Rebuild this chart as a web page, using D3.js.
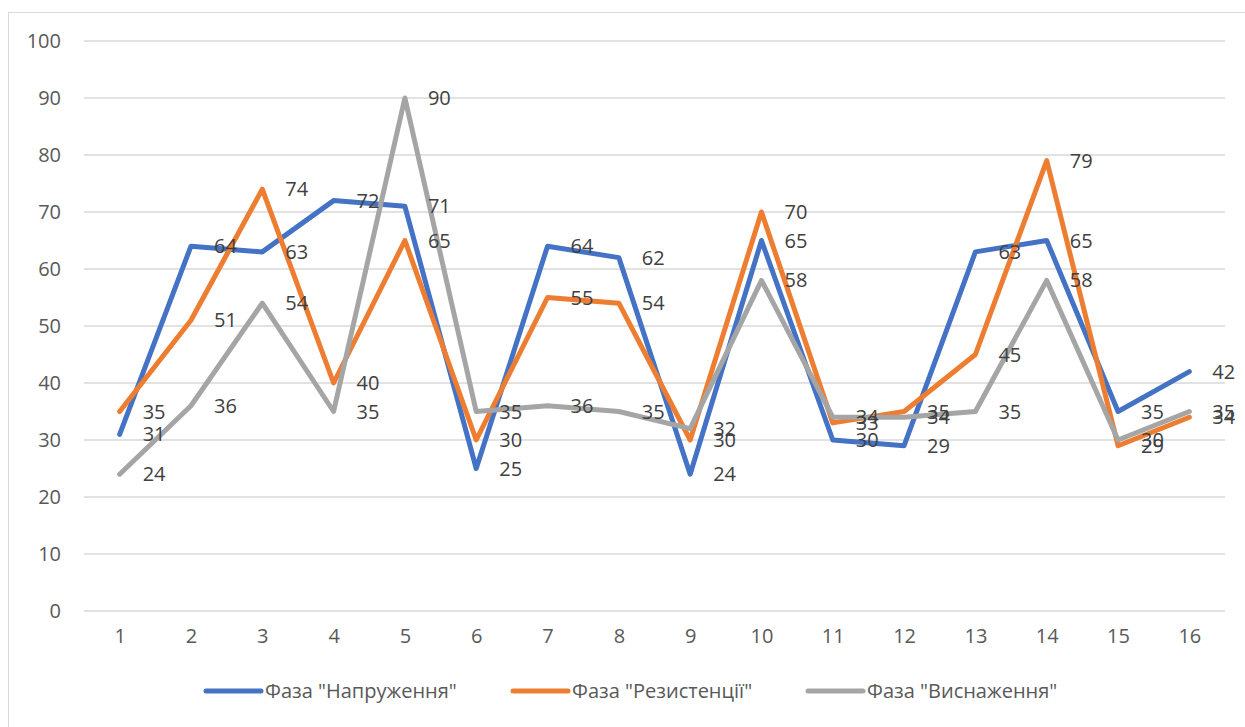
<!DOCTYPE html>
<html>
<head>
<meta charset="utf-8">
<script src="https://cdn.jsdelivr.net/npm/d3@7"></script>
<style>
  body { margin: 0; background: #fff; }
  svg { display: block; font-family: "Open Sans", "Noto Sans", sans-serif; }
</style>
</head>
<body>
<div id="chart"></div>
<script>
const categories = ["1","2","3","4","5","6","7","8","9","10","11","12","13","14","15","16"];
const seriesNames = ['Фаза "Напруження"', 'Фаза "Резистенції"', 'Фаза "Виснаження"'];
const napruzhennia = [31, 64, 63, 72, 71, 25, 64, 62, 24, 65, 30, 29, 63, 65, 35, 42];
const rezystentsii = [35, 51, 74, 40, 65, 30, 55, 54, 30, 70, 33, 35, 45, 79, 29, 34];
const vysnazhennia = [24, 36, 54, 35, 90, 35, 36, 35, 32, 58, 34, 34, 35, 58, 30, 35];
const yTicks = [0, 10, 20, 30, 40, 50, 60, 70, 80, 90, 100];
const colors = ["#4472C4", "#ED7D31", "#A5A5A5"];

const width = 1245, height = 727;
const plot = { left: 84, right: 1225, top: 41, bottom: 611 };

const svg = d3.select("#chart").append("svg")
    .attr("width", width)
    .attr("height", height);

// chart border
svg.append("rect")
    .attr("x", 8.5).attr("y", 12.5)
    .attr("width", width + 10).attr("height", height + 10)
    .attr("fill", "none")
    .attr("stroke", "#d9d9d9")
    .attr("stroke-width", 1);

const x = d3.scalePoint()
    .domain(categories)
    .range([plot.left, plot.right])
    .padding(0.5);

const y = d3.scaleLinear()
    .domain([0, 100])
    .range([plot.bottom, plot.top]);

// gridlines
svg.append("g")
    .selectAll("line")
    .data(yTicks)
    .enter()
    .append("line")
    .attr("x1", plot.left).attr("x2", plot.right)
    .attr("y1", d => y(d)).attr("y2", d => y(d))
    .attr("stroke", "#d9d9d9")
    .attr("stroke-width", 1.5);

// y axis labels
const yAxis = svg.append("g")
    .attr("transform", `translate(${plot.left - 23},0)`)
    .call(d3.axisLeft(y).tickValues(yTicks).tickSize(0).tickPadding(0));
yAxis.select(".domain").remove();
yAxis.selectAll("text")
    .attr("fill", "#595959")
    .style("font-size", "20px")
    .style("font-family", "'Open Sans', sans-serif");

// x axis labels
const xAxis = svg.append("g")
    .attr("transform", `translate(0,${plot.bottom + 18})`)
    .call(d3.axisBottom(x).tickSize(0).tickPadding(0));
xAxis.select(".domain").remove();
xAxis.selectAll("text")
    .attr("fill", "#595959")
    .style("font-size", "20px")
    .style("font-family", "'Open Sans', sans-serif");

const allSeries = [napruzhennia, rezystentsii, vysnazhennia];

const line = d3.line()
    .x((d, i) => x(categories[i]))
    .y(d => y(d));

allSeries.forEach((vals, s) => {
    svg.append("path")
        .datum(vals)
        .attr("d", line)
        .attr("fill", "none")
        .attr("stroke", colors[s])
        .attr("stroke-width", 5)
        .attr("stroke-linejoin", "round")
        .attr("stroke-linecap", "round");
});

// data labels (right of point)
allSeries.forEach((vals, s) => {
    svg.append("g")
        .selectAll("text")
        .data(vals)
        .enter()
        .append("text")
        .attr("x", (d, i) => x(categories[i]) + 23)
        .attr("y", d => y(d))
        .attr("dy", "0.35em")
        .attr("fill", "#404040")
        .style("font-size", "20px")
        .text(d => d);
});

// legend
const legendItems = [
    { x: 206, name: seriesNames[0], color: colors[0] },
    { x: 513, name: seriesNames[1], color: colors[1] },
    { x: 808, name: seriesNames[2], color: colors[2] }
];
const legend = svg.append("g").attr("transform", "translate(0,691)");
legendItems.forEach(it => {
    legend.append("line")
        .attr("x1", it.x).attr("x2", it.x + 55)
        .attr("y1", 0).attr("y2", 0)
        .attr("stroke", it.color)
        .attr("stroke-width", 5)
        .attr("stroke-linecap", "round");
    legend.append("text")
        .attr("x", it.x + 59)
        .attr("y", 0)
        .attr("dy", "0.35em")
        .attr("fill", "#595959")
        .style("font-size", "20px")
        .text(it.name);
});
</script>
</body>
</html>
